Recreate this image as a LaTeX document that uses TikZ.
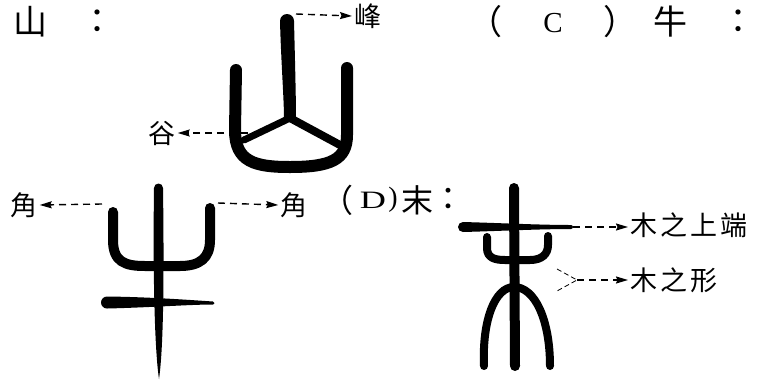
\documentclass[tikz,border=0pt]{standalone}
\usepackage{fontspec}
\setmainfont{Liberation Serif}
\newfontfamily\cjk{Noto Sans CJK TC}
\usetikzlibrary{arrows.meta}
\newcommand{\kg}{\hspace{3pt}}
\tikzset{
  bi/.style={line width=10pt, line cap=round, line join=round},
  zhi/.style={line width=1.4pt, dash pattern=on 7pt off 5pt,
    -{Stealth[length=12pt,width=7pt,inset=1.5pt]}},
  zi/.style={font=\fontsize{34pt}{36pt}\selectfont, inner sep=0pt},
  zimo/.style={font=\fontsize{32pt}{34pt}\selectfont, inner sep=0pt},
  biaozhu/.style={font=\fontsize{27pt}{29pt}\selectfont\cjk, inner sep=2pt},
}

\begin{document}
\begin{tikzpicture}[x=1pt,y=-1pt]
\useasboundingbox (0,0) rectangle (766,381);
% titles
\node[zi] (shan) at (30,22) {\cjk 山};
\node[zi] (maohaoA) at (97,22) {\cjk ：};
\node[zi] (kuoL) at (485,22) {\cjk （};
\node[zi, font=\fontsize{29pt}{31pt}\selectfont] (C) at (553,23) {C};
\node[zi] (kuoR) at (620,22) {\cjk ）};
\node[zi] (niu) at (670,22) {\cjk 牛};
\node[zi] (maohaoB) at (738,22) {\cjk ：};
\node[zimo] (kuoLD) at (337,200) {\cjk （};
\node[zimo, font=\fontsize{25pt}{27pt}\selectfont] (D) at (373,200) {\scalebox{1.45}[1]{D}};
\node[zimo, font=\fontsize{28pt}{30pt}\selectfont] (kuoRD) at (393,200) {)};
\node[zimo] (mo) at (417,200) {\cjk 末};
\node[zimo] (maohaoC) at (448,199) {\cjk ：};

% shan
\fill (280,21) arc[start angle=180,end angle=360,radius=7]
  .. controls (295,60) and (296,100) .. (296,118) -- (284,118)
  .. controls (284,100) and (281,60) .. (280,21) -- cycle;
\draw[line width=7pt, line cap=round] (290,118) -- (244,140);
\draw[line width=8pt, line cap=round] (290,118) -- (340,145);
\draw[bi, line width=12pt] (236,70) -- (235,130)
  .. controls (235,162) and (255,167) .. (290,167)
  .. controls (330,167) and (347,160) .. (347,135) -- (347,68);
\coordinate (fengqi) at (296,14);
\node[biaozhu, anchor=west] (feng) at (352,16) {峰};
\draw[zhi] (fengqi) -- (feng.west);
\coordinate (guqi) at (248,133);
\node[biaozhu] (gu) at (162,133) {谷};
\draw[zhi] (guqi) -- (gu.east);

% niu
\fill (154,188) arc[start angle=180,end angle=360,radius=4.5]
  .. controls (164,260) and (164,345) .. (159,379)
  .. controls (154,345) and (153,260) .. (154,188) -- cycle;
\draw[bi] (113,212) -- (113,240)
  .. controls (113,262) and (125,266) .. (145,266) -- (180,266)
  .. controls (200,266) and (210,258) .. (210,240) -- (210,208);
\fill (107,296.5) .. controls (150,297) and (190,300) .. (213,301.5)
  arc[start angle=-90,end angle=90,radius=1.5]
  .. controls (190,304.5) and (150,307.5) .. (107,308.5)
  arc[start angle=90,end angle=270,radius=6];
\coordinate (jiaoqiL) at (102,204);
\coordinate (jiaoqiR) at (218,203);
\node[biaozhu] (jiaoL) at (24,205) {角};
\node[biaozhu] (jiaoR) at (294,205) {角};
\draw[zhi] (jiaoqiL) -- (jiaoL.east);
\draw[zhi] (jiaoqiR) -- (jiaoR.west);

% mo
\draw[bi] (514,188) -- (515,366);
\fill (463,222) .. controls (500,223) and (540,225) .. (571,225)
  arc[start angle=-90,end angle=90,radius=2]
  .. controls (540,229) and (500,231) .. (463,232)
  arc[start angle=90,end angle=270,radius=5];
\draw[bi, line width=8pt] (487,237) -- (487,248)
  .. controls (487,258) and (495,260) .. (505,260) -- (530,260)
  .. controls (542,260) and (548,254) .. (548,245) -- (548,236);
\draw[bi, line width=8pt] (484,366) .. controls (482,320) and (495,287) .. (514,287)
  .. controls (535,287) and (550,320) .. (550,366);
\coordinate (duanqi) at (573,227);
\node[biaozhu, anchor=west] (duan) at (628,225) {木\kg 之\kg 上\kg 端};
\draw[zhi] (duanqi) -- (duan.west |- duanqi);
\coordinate (xingjian) at (577,280);
\draw[line width=0.8pt, dash pattern=on 5pt off 3pt] (557,269) -- (xingjian) -- (557,291);
\node[biaozhu, anchor=west] (xing) at (628,280) {木\kg 之\kg 形};
\draw[zhi] (xingjian) -- (xing.west);
\end{tikzpicture}
\end{document}
